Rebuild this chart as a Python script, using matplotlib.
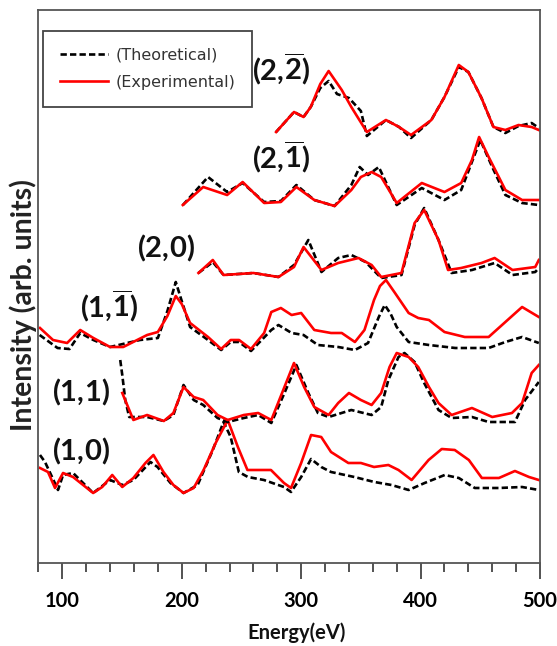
import matplotlib.pyplot as plt

plt.rcParams['font.family'] = ['Lato', 'DejaVu Sans']
plt.rcParams['mathtext.fontset'] = 'custom'
plt.rcParams['mathtext.bf'] = 'Lato:bold'
plt.rcParams['mathtext.rm'] = 'Lato'

# (1,0)
e_10_exp = [81.3, 88, 93.9, 100.6, 109, 117.4, 125.8, 133.4, 141.8, 150.2, 159.5, 169.6, 176.3, 184.7, 193,
            201.5, 210, 218.3, 228.4, 238.5, 247, 255, 274.7, 285.6, 291.5, 300, 308.3, 316.8, 325, 339.5,
            350, 361, 373, 381.5, 392.5, 406.7, 417.7, 428.6, 440.4, 451.3, 465.6, 479, 490.8, 499]
i_10_exp = [98, 94, 78, 93, 89, 81, 73, 79, 91, 79, 88, 103, 111, 94, 81,
            73, 78, 96, 123, 146, 119, 96, 96, 83, 78, 103, 131, 129, 114, 103,
            103, 99, 101, 96, 86, 106, 117, 116, 106, 88, 88, 95, 89, 86]
e_10_th = [81.3, 85.5, 91.4, 96.4, 100.6, 109, 117.4, 125.8, 140, 150.2, 159.5, 173.8, 179.7, 190.6, 201.5,
           213.3, 226, 235, 241, 247.8, 255.4, 268.8, 285.6, 291.5, 300, 308.3, 316.8, 325, 344.5, 361.3,
           375.6, 390, 403.4, 420.2, 432, 445.4, 465.6, 485, 499]
i_10_th = [111, 104, 89, 76, 91, 93, 83, 73, 86, 81, 86, 104, 99, 83, 73,
           81, 116, 144, 129, 94, 89, 86, 79, 74, 89, 107, 99, 94, 89, 84,
           81, 76, 83, 91, 88, 78, 78, 79, 76]

# (1,1)
e_11_exp = [150.2, 159.5, 171, 185, 193, 201.5, 210, 218, 230, 238.5, 252, 264, 275, 286, 294, 302.5,
            311, 323, 331, 340, 350, 359, 367, 374, 380, 390, 398, 407, 415, 426, 443, 460, 476.5,
            485, 493, 499]
i_11_exp = [173, 146, 151, 145, 153, 179, 169, 166, 151, 146, 151, 153, 146, 179, 203, 179,
            159, 151, 163, 173, 166, 161, 173, 199, 213, 209, 199, 179, 163, 151, 158, 149, 153,
            163, 193, 201]
e_11_th = [148.5, 150.2, 152.7, 156, 171, 185, 193, 201.5, 210, 218, 230, 238.5, 252, 264, 275, 286,
           296, 306, 314, 323, 342, 359, 367, 373, 381.5, 386.5, 395, 403, 415, 426, 443, 457, 479,
           487.5, 499]
i_11_th = [206, 191, 166, 149, 149, 145, 151, 181, 166, 161, 148, 144, 148, 151, 143, 173,
           201, 173, 153, 149, 156, 151, 159, 186, 209, 213, 204, 183, 156, 148, 149, 144, 144,
           166, 184]

# (1,-1)
e_1m1_exp = [81.3, 92.2, 104, 115, 126, 140, 151, 171, 180, 188, 195, 200, 207, 222, 233, 241, 248,
             258, 269, 275, 283, 292, 300, 311, 325, 334, 345, 353, 361, 366, 371, 378, 390, 398,
             407, 420, 437, 457, 471, 485, 499]
i_1m1_exp = [238, 226, 223, 236, 228, 219, 219, 231, 234, 250, 270, 262, 243, 229, 217, 226, 226,
             217, 233, 254, 258, 251, 253, 236, 233, 233, 224, 236, 266, 280, 286, 274, 253, 248,
             246, 234, 229, 229, 244, 259, 249]
e_1m1_th = [81, 96, 106, 115, 126, 140, 165, 180, 188, 195, 200, 207, 222, 233, 241, 248, 258, 275,
            281, 292, 302, 314, 331, 345, 356, 365, 370, 375, 380, 390, 407, 429, 457, 471, 485, 499]
i_1m1_th = [231, 218, 217, 233, 226, 219, 226, 228, 255, 284, 265, 239, 226, 216, 224, 224, 215, 236,
            241, 233, 231, 221, 219, 216, 223, 249, 261, 252, 239, 224, 221, 218, 218, 224, 229, 223]

# (2,0)
e_20_exp = [214, 226, 235, 260, 281, 294, 302, 317, 331, 348, 359, 367, 384, 395, 403, 415, 423, 434,
            451, 462, 477, 496, 499]
i_20_exp = [293, 306, 291, 293, 289, 299, 319, 296, 303, 308, 301, 289, 293, 343, 356, 326, 296, 298,
            303, 308, 296, 299, 306]
e_20_th = [214, 226, 235, 260, 281, 294, 306, 317, 331, 342, 354, 367, 384, 395, 403, 415, 426, 443,
           462, 477, 496, 499]
i_20_th = [293, 304, 291, 293, 289, 301, 326, 294, 308, 311, 304, 288, 291, 341, 358, 326, 293, 296,
           303, 291, 294, 298]

# (2,-1)
e_2m1_exp = [200.9, 218, 238, 251, 269, 283, 296, 311, 328, 342, 350, 359, 367, 380, 401, 420, 434,
             443, 449, 457, 471, 485, 499]
i_2m1_exp = [361, 379, 371, 384, 363, 364, 379, 366, 360, 376, 389, 394, 389, 363, 383, 374, 383,
             406, 429, 409, 376, 366, 366]
e_2m1_th = [201, 222, 238, 251, 269, 283, 296, 311, 328, 342, 349, 356, 365, 380, 401, 420, 434,
            450, 460, 471, 485, 499]
i_2m1_th = [361, 389, 374, 383, 364, 365, 381, 366, 360, 381, 399, 391, 399, 361, 378, 366, 376,
            426, 399, 371, 363, 361]

# (2,-2)
e_2m2_exp = [279, 294, 302, 308, 316, 323, 334, 342, 355, 371, 382, 392, 409, 420, 432, 440, 451, 461,
             471, 482, 493, 499]
i_2m2_exp = [434, 454, 449, 459, 482, 495, 476, 459, 434, 446, 439, 431, 446, 469, 501, 494, 468, 439,
             436, 441, 439, 436]
e_2m2_th = [279, 294, 302, 308, 316, 323, 330, 340, 350, 355, 371, 382, 392, 409, 420, 432, 440, 451,
            461, 471, 482, 493, 499]
i_2m2_th = [434, 454, 449, 459, 478, 485, 472, 468, 455, 430, 446, 439, 428, 446, 469, 499, 494, 468,
            439, 433, 440, 443, 438]

spectra = [
    (e_10_exp, i_10_exp, e_10_th, i_10_th),
    (e_11_exp, i_11_exp, e_11_th, i_11_th),
    (e_1m1_exp, i_1m1_exp, e_1m1_th, i_1m1_th),
    (e_20_exp, i_20_exp, e_20_th, i_20_th),
    (e_2m1_exp, i_2m1_exp, e_2m1_th, i_2m1_th),
    (e_2m2_exp, i_2m2_exp, e_2m2_th, i_2m2_th),
]

labels = [r'$\mathbf{(1,}\!\mathbf{0)}$', r'$\mathbf{(1,}\!\mathbf{1)}$',
          r'$\mathbf{(1,}\!\overline{\mathbf{1}}\mathbf{)}$',
          r'$\mathbf{(2,}\!\mathbf{0)}$', r'$\mathbf{(2,}\!\overline{\mathbf{1}}\mathbf{)}$',
          r'$\mathbf{(2,}\!\overline{\mathbf{2}}\mathbf{)}$']
label_pos = [(91.4, 106), (91.4, 165), (114.8, 249), (162.6, 309), (258.5, 398), (258.5, 486)]

fig = plt.figure(figsize=(5.57, 6.46), dpi=100)
ax = fig.add_axes([0.069, 0.1285, 0.9005, 0.856])

for k, (ex, iexp, et, ith) in enumerate(spectra):
    ax.plot(et, ith, color='black', lw=1.9, dashes=(2.4, 1.2),
            label='(Theoretical)' if k == 0 else None)
    ax.plot(ex, iexp, color='#ff0000', lw=1.9,
            label='(Experimental)' if k == 0 else None)

for txt, (x, y) in zip(labels, label_pos):
    ax.text(x, y, txt, fontsize=21, ha='left', va='baseline', color='#111111', zorder=5)

ax.set_xlim(80, 500)
ax.set_ylim(3, 556)
ax.set_xticks([100, 200, 300, 400, 500])
ax.set_xticks(range(80, 501, 20), minor=True)
ax.set_yticks([])
ax.tick_params(axis='x', which='major', length=11.5, width=1.3, color='#444444', pad=9,
               labelsize=14.5)
ax.tick_params(axis='x', which='minor', length=6.5, width=1.3, color='#444444')
for lab in ax.get_xticklabels():
    lab.set_fontweight('bold')
for sp in ax.spines.values():
    sp.set_color('#555555')
    sp.set_linewidth(1.3)

ax.set_xlabel('Energy(eV)', fontsize=14.5, fontweight='bold', color='#111111')
ax.xaxis.set_label_coords(0.514, -0.107)
ax.set_ylabel('Intensity (arb. units)', fontsize=20.5, fontweight='bold', color='#222222')
ax.yaxis.set_label_coords(-0.002, 0.467)

leg = ax.legend(loc='upper left', bbox_to_anchor=(0.009, 0.962), borderaxespad=0,
                prop={'family': 'DejaVu Sans', 'size': 11.5}, handlelength=3.0,
                handletextpad=0.5, borderpad=1.05, labelspacing=0.75, fancybox=False,
                framealpha=1, edgecolor='#444444')
leg.get_frame().set_linewidth(1.3)
for t in leg.get_texts():
    t.set_color('#333333')

fig.savefig('out.png', dpi=100)
